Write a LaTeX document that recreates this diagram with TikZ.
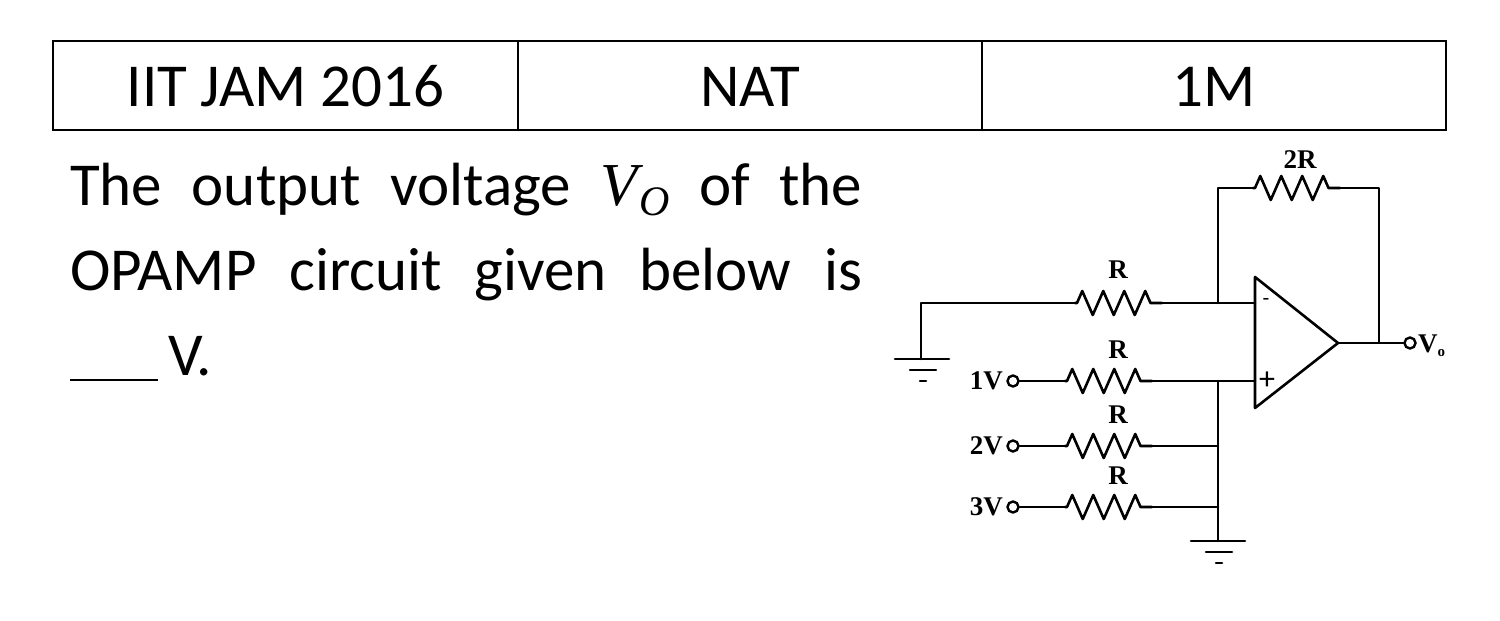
\documentclass[tikz,border=0pt]{standalone}
\usepackage{fontspec}
\setmainfont{Carlito}
\newfontfamily\circfont{Liberation Serif}[BoldFont={Liberation Serif Bold}]
\newfontfamily\myitfont{Liberation Serif}[ItalicFont={Liberation Serif Italic}]
\usetikzlibrary{decorations.pathmorphing}
\begin{document}
\begin{tikzpicture}[x=1pt,y=-1pt,
  wire/.style={line width=2.6pt,line join=round,line cap=round},
  res/.style={wire,decorate,decoration={zigzag,segment length=21pt,amplitude=12pt,pre length=2pt,post length=2pt}},
  lab/.style={font=\circfont\bfseries\fontsize{27}{29}\selectfont,inner sep=0pt},
  term/.style={circle,draw,line width=2.4pt,minimum size=11pt,inner sep=0pt,fill=white},
  body/.style={font=\fontsize{61}{70}\selectfont,inner sep=0pt,anchor=base west}]
\useasboundingbox (0,0) rectangle (1500,621);
% table
\draw[line width=2pt] (53,41) rectangle (1446,130);
\draw[line width=2pt] (518,41) -- (518,130) (982,41) -- (982,130);
\node[body,anchor=base] (c1) at (285.5,106) {IIT JAM 2016};
\node[body,anchor=base] (c2) at (750,106) {NAT};
\node[body,anchor=base] (c3) at (1214,106) {1M};
% text
\node[body] (l1) at (70,205) {\makebox[792pt][s]{The output voltage {\myitfont\itshape V\kern1pt\raisebox{-10pt}{\fontsize{42}{42}\selectfont O}} of the}};
\node[body] (l2) at (70,290) {\makebox[792pt][s]{OPAMP circuit given below is}};
\node[body] (l3) at (70,375) {\rule[-6pt]{88pt}{2.5pt}\,V.};
% op amp
\coordinate (oa1) at (1255,277); \coordinate (oa2) at (1255,408); \coordinate (oat) at (1338,343);
\draw[wire] (oa1) -- (oat) -- (oa2) -- cycle;
\node[font=\fontsize{22}{22}\selectfont] (mi) at (1266,302) {-};
\node[font=\fontsize{32}{32}\selectfont] (pl) at (1267,381) {+};
% coordinates
\coordinate (gL) at (921,303);
\coordinate (r1a) at (1075,303); \coordinate (r1b) at (1162,303);
\coordinate (jm) at (1218,303); \coordinate (inm) at (1255,303);
\coordinate (jt) at (1218,188); \coordinate (r2a) at (1253,188); \coordinate (r2b) at (1340,188);
\coordinate (rt) at (1379,188); \coordinate (ro) at (1379,343);
\coordinate (gL2) at (921,359);
% feedback
\draw[wire] (gL2) -- (gL) -- (r1a);
\draw[res] (r1a) -- (r1b);
\draw[wire] (r1b) -- (inm);
\draw[wire] (jm) -- (jt) -- (r2a);
\draw[res] (r2a) -- (r2b);
\draw[wire] (r2b) -- (rt) -- (ro) -- (oat);
\node[term] (vo) at (1410,343) {};
\draw[wire] (ro) -- (vo);
\node[lab,anchor=west] (volab) at (1418,346) {V\raisebox{-4pt}{\fontsize{15}{15}\selectfont o}};
\node[lab] (l2R) at (1300,160) {2R};
\node[lab] (lR1) at (1118,270) {R};
% ground left
\draw[wire] (895,359) -- (949,359);
\draw[wire] (910,370) -- (936,370);
\draw[wire] (920,381) -- (926,381);
% inputs
\foreach \y/\v/\n in {381/1/a,446/2/b,507/3/c}{
  \node[term] (t\n) at (1013,\y) {};
  \node[lab,anchor=east] (lv\n) at (1003,\y) {\v V};
  \coordinate (ra\n) at (1065,\y); \coordinate (rb\n) at (1152,\y);
  \draw[wire] (t\n) -- (ra\n);
  \draw[res] (ra\n) -- (rb\n);
  \node[lab] (lr\n) at (1118,\y-31) {R};
}
\coordinate (jp) at (1218,381); \coordinate (inp) at (1255,381);
\coordinate (jb) at (1218,446); \coordinate (jc) at (1218,507); \coordinate (jg) at (1218,541);
\draw[wire] (rba) -- (inp);
\draw[wire] (rbb) -- (jb);
\draw[wire] (rbc) -- (jc);
\draw[wire] (jp) -- (jg);
\draw[wire] (1191,541) -- (1245,541);
\draw[wire] (1206,552) -- (1232,552);
\draw[wire] (1216,563) -- (1222,563);
\end{tikzpicture}
\end{document}
